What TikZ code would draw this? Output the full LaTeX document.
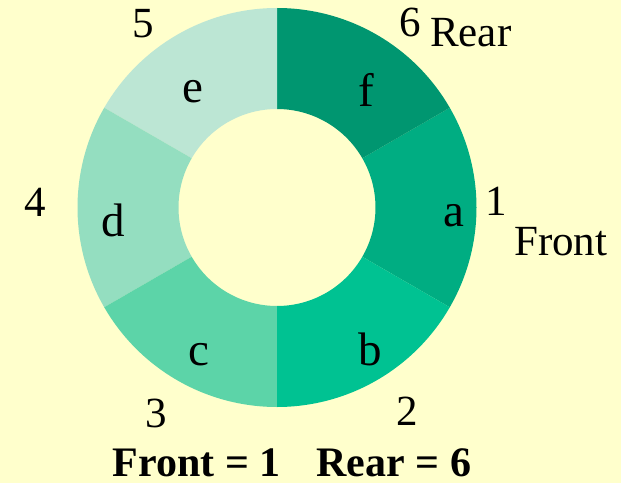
\documentclass[tikz,border=0pt]{standalone}
\usepackage{fontspec}
\setmainfont{Liberation Serif}
\definecolor{bgc}{RGB}{255,255,204}
\definecolor{segf}{RGB}{0,150,112}
\definecolor{sega}{RGB}{0,173,130}
\definecolor{segb}{RGB}{0,194,146}
\definecolor{segc}{RGB}{92,212,168}
\definecolor{segd}{RGB}{148,222,192}
\definecolor{sege}{RGB}{188,230,212}
\tikzset{
  letter/.style={inner sep=0pt, anchor=base, font=\fontsize{47}{47}\selectfont},
  digit/.style={inner sep=0pt, anchor=base, font=\fontsize{43}{43}\selectfont},
  word/.style={inner sep=0pt, anchor=base west, font=\fontsize{43}{43}\selectfont},
}
\newcommand{\ringseg}[3]{%
  \fill[#3] ($(C)+(#1:199.5)$) arc[start angle=#1, end angle=#2, radius=199.5]
    -- ($(C)+(#2:98.5)$) arc[start angle=#2, end angle=#1, radius=98.5] -- cycle;}
\usetikzlibrary{calc}
\begin{document}
\begin{tikzpicture}[x=1pt,y=1pt]
\fill[bgc] (0,0) rectangle (621,483);
\useasboundingbox (0,0) rectangle (621,483);
\coordinate (C) at (277,275.5);
\ringseg{-30}{30}{sega}
\ringseg{30}{90}{segf}
\ringseg{90}{150}{sege}
\ringseg{150}{210}{segd}
\ringseg{210}{270}{segc}
\ringseg{270}{330}{segb}
\node[letter] (la) at (454,257) {a};
\node[letter] (lb) at (370,118) {b};
\node[letter] (lc) at (199,118) {c};
\node[letter] (ld) at (113,247) {d};
\node[letter] (le) at (193,381) {e};
\node[letter] (lf) at (366,376) {f};
\node[digit] (n1) at (496,268) {1};
\node[digit] (n2) at (407,58) {2};
\node[digit] (n3) at (156,56) {3};
\node[digit] (n4) at (35,267) {4};
\node[digit] (n5) at (143,445) {5};
\node[digit] (n6) at (410,446) {6};
\node[word] (rear) at (430,436) {Rear};
\node[word] (front) at (514,228) {Front};
\node[inner sep=0pt, anchor=base, font=\fontsize{42}{42}\selectfont\bfseries] (eq) at (292,7) {Front = 1\hspace{0.6em} Rear = 6};
\end{tikzpicture}
\end{document}
